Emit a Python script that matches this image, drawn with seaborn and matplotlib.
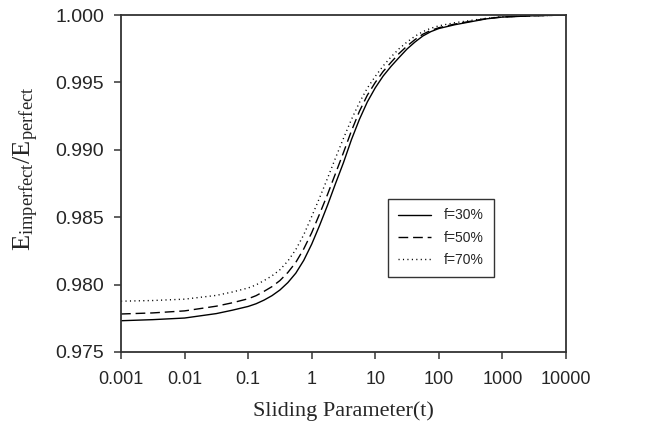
import matplotlib
matplotlib.use("Agg")
import matplotlib.pyplot as plt
import seaborn as sns
import pandas as pd

# values (log10 of t, then E_imperfect/E_perfect)
log_t = [-3, -2.5, -2, -1.5, -1.25,
         -1, -0.875, -0.75, -0.625, -0.5, -0.375, -0.25, -0.125,
         0, 0.125, 0.25, 0.375, 0.5, 0.625, 0.75, 0.875,
         1, 1.125, 1.25, 1.375, 1.5, 1.625, 1.75, 1.875,
         2, 2.25, 2.5, 2.75, 3, 3.5, 4]
f30 = [0.97732, 0.97740, 0.97752, 0.97785, 0.97810,
       0.97838, 0.97858, 0.97885, 0.97918, 0.97960, 0.98015, 0.98085, 0.98180,
       0.98300, 0.98440, 0.98590, 0.98750, 0.98905, 0.99075, 0.99225, 0.99355,
       0.99460, 0.99548, 0.99620, 0.99685, 0.99748, 0.99800, 0.99845, 0.99877,
       0.99900, 0.99928, 0.99950, 0.99972, 0.99985, 0.99995, 1.00000]
f50 = [0.97782, 0.97790, 0.97805, 0.97840, 0.97865,
       0.97895, 0.97918, 0.97950, 0.97985, 0.98030, 0.98090, 0.98165, 0.98265,
       0.98385, 0.98525, 0.98670, 0.98825, 0.98980, 0.99140, 0.99285, 0.99405,
       0.99500, 0.99582, 0.99650, 0.99715, 0.99770, 0.99818, 0.99858, 0.99886,
       0.99906, 0.99933, 0.99954, 0.99974, 0.99986, 0.99995, 1.00000]
f70 = [0.97877, 0.97882, 0.97892, 0.97920, 0.97945,
       0.97975, 0.97998, 0.98030, 0.98065, 0.98110, 0.98175, 0.98260, 0.98370,
       0.98505, 0.98645, 0.98790, 0.98940, 0.99085, 0.99225, 0.99350, 0.99458,
       0.99545, 0.99623, 0.99690, 0.99750, 0.99800, 0.99843, 0.99877, 0.99902,
       0.99920, 0.99943, 0.99960, 0.99976, 0.99987, 0.99995, 1.00000]
labels = ["f=30%", "f=50%", "f=70%"]
x_ticks = [0.001, 0.01, 0.1, 1, 10, 100, 1000, 10000]
x_tick_labels = ["0.001", "0.01", "0.1", "1", "10", "100", "1000", "10000"]
y_ticks = [0.975, 0.980, 0.985, 0.990, 0.995, 1.000]

t = [10.0 ** v for v in log_t]
df = pd.concat([
    pd.DataFrame({"t": t, "ratio": vals, "series": lab})
    for vals, lab in zip([f30, f50, f70], labels)
])

sns.set_style("ticks")
plt.rcParams["font.family"] = ["Liberation Sans", "DejaVu Sans"]
plt.rcParams["mathtext.fontset"] = "custom"
plt.rcParams["mathtext.rm"] = "Liberation Serif"

fig = plt.figure(figsize=(6.65, 4.3), dpi=100)
ax = fig.add_axes([0.182, 0.1814, 0.669, 0.7836])

sns.lineplot(data=df, x="t", y="ratio", style="series", color="black",
             dashes={"f=30%": "", "f=50%": (7, 3.5), "f=70%": (0.8, 2.4)},
             linewidth=1.0, ax=ax)

ax.set_xscale("log")
ax.set_xlim(0.001, 10000)
ax.set_ylim(0.975, 1.0)
ax.set_xticks(x_ticks)
ax.set_xticklabels(x_tick_labels)
ax.minorticks_off()
ax.set_yticks(y_ticks)
ax.set_yticklabels([f"{v:.3f}" for v in y_ticks])
ax.tick_params(axis="both", length=5, width=1.2, color="#444444",
               direction="out")
ax.tick_params(axis="x", labelsize=13, pad=9)
ax.tick_params(axis="y", labelsize=14, pad=7)

for s in ax.spines.values():
    s.set_color("#333333")
    s.set_linewidth(1.3)

ax.set_xlabel("Sliding Parameter(t)", family="Liberation Serif", fontsize=16)
ax.xaxis.set_label_coords(0.5, -0.147)
ax.set_ylabel(r"$\mathrm{E_{imperfect}/E_{perfect}}$", fontsize=19)
ax.yaxis.set_label_coords(-0.18, 0.543)

handles, _ = ax.get_legend_handles_labels()
leg = ax.legend(handles=handles, labels=labels, loc="upper left",
                bbox_to_anchor=(0.6, 0.455), borderaxespad=0, fontsize=10,
                frameon=True, fancybox=False, edgecolor="black",
                handlelength=2.4, handletextpad=0.95, labelspacing=0.6,
                borderpad=0.7)
leg.get_frame().set_linewidth(1.0)

fig.savefig("out.png", dpi=100)
